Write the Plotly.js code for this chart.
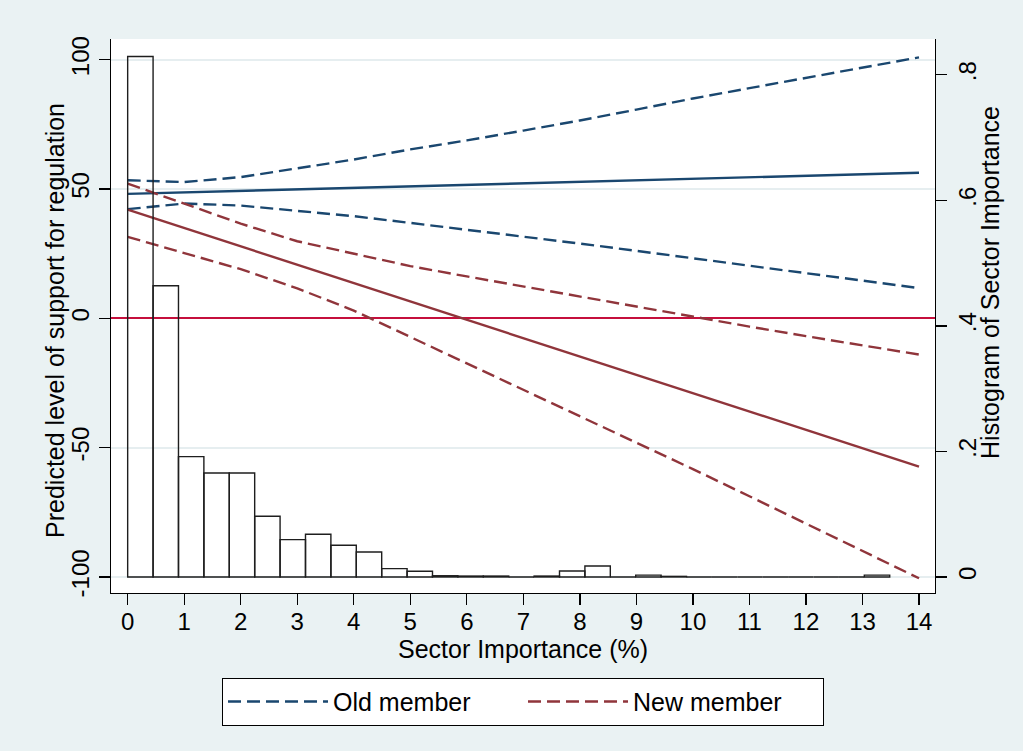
<!DOCTYPE html>
<html>
<head>
<meta charset="utf-8">
<script src="https://cdn.plot.ly/plotly-3.0.1.min.js"></script>
<style>html,body{margin:0;padding:0;background:#eaf2f3;}#chart{width:1023px;height:751px;}</style>
</head>
<body>
<div id="chart"></div>
<script>
// ---- data ----
const sectorX = [0,1,2,3,4,5,6,7,8,9,10,11,12,13,14];

const oldEstimate = [48.1,48.7,49.3,49.9,50.5,51.1,51.6,52.2,52.8,53.4,54.0,54.6,55.2,55.8,56.3];
const oldUpper    = [53.4,52.7,54.6,58.0,61.4,65.3,68.8,72.6,76.5,80.7,85.0,89.0,93.0,97.0,100.9];
const oldLower    = [42.2,44.4,43.6,41.6,39.5,36.9,34.3,31.5,28.9,26.1,23.2,20.3,17.4,14.6,11.7];

const newEstimate = [42.0,34.9,27.8,20.7,13.6,6.5,-0.6,-7.6,-14.7,-21.8,-28.9,-36.0,-43.1,-50.2,-57.3];
const newUpper    = [52.1,44.5,36.6,29.8,25.0,20.2,16.2,12.3,8.4,4.5,0.5,-3.2,-6.9,-10.5,-14.0];
const newLower    = [31.5,25.3,19.0,11.6,3.0,-7.2,-17.4,-27.5,-37.8,-48.1,-58.3,-68.8,-79.3,-89.9,-100.5];

// histogram of sector importance: 30 bins starting at 0
const histBinWidth = 0.4494;
const histDensity = [0.829,0.464,0.1917,0.1657,0.1657,0.0967,0.0595,0.068,0.0505,0.0398,
                     0.0133,0.0091,0.002,0.0015,0.0015,0,0.0015,0.0096,0.0175,0,
                     0.003,0.001,0,0,0,0,0,0,0,0.003];

const leftTickVals = [-100,-50,0,50,100];
const leftTickText = ['-100','-50','0','50','100'];
const rightTickVals = [0,0.2,0.4,0.6,0.8];
const rightTickText = ['0','.2','.4','.6','.8'];
const xTickVals = [0,1,2,3,4,5,6,7,8,9,10,11,12,13,14];

const seriesNames = ['Old member','New member'];
const leftTitle = 'Predicted level of support for regulation';
const rightTitle = 'Histogram of Sector Importance';
const xTitle = 'Sector Importance (%)';
// ---------------------------------------

const NAVY = '#1a476f', MAROON = '#90353b';
const FONT = 'Liberation Sans, Arial, Helvetica, sans-serif';
const DASH = '13px,6px';
const LW = 2.4;

const binLeft = histDensity.map((_, i) => i * histBinWidth);

const traces = [
  {
    type: 'bar', x: binLeft, y: histDensity, width: histBinWidth, offset: 0,
    yaxis: 'y2', xaxis: 'x',
    marker: {color: 'rgba(255,255,255,0)', line: {color: '#1e1e1e', width: 1.4}},
    showlegend: false, hoverinfo: 'skip'
  },
  {x: sectorX, y: oldUpper, mode: 'lines', name: seriesNames[0], legendgroup: 'old',
   line: {color: NAVY, width: LW, dash: DASH}, showlegend: true},
  {x: sectorX, y: oldLower, mode: 'lines', name: seriesNames[0], legendgroup: 'old',
   line: {color: NAVY, width: LW, dash: DASH}, showlegend: false},
  {x: sectorX, y: oldEstimate, mode: 'lines', name: seriesNames[0], legendgroup: 'old',
   line: {color: NAVY, width: LW}, showlegend: false},
  {x: sectorX, y: newUpper, mode: 'lines', name: seriesNames[1], legendgroup: 'new',
   line: {color: MAROON, width: LW, dash: DASH}, showlegend: true},
  {x: sectorX, y: newLower, mode: 'lines', name: seriesNames[1], legendgroup: 'new',
   line: {color: MAROON, width: LW, dash: DASH}, showlegend: false},
  {x: sectorX, y: newEstimate, mode: 'lines', name: seriesNames[1], legendgroup: 'new',
   line: {color: MAROON, width: LW}, showlegend: false}
];

const layout = {
  width: 1023, height: 751,
  paper_bgcolor: '#eaf2f3', plot_bgcolor: '#ffffff',
  margin: {l: 111, r: 88, t: 39, b: 158},
  font: {family: FONT, size: 24, color: '#000'},
  showlegend: true,
  xaxis: {
    range: [-0.295, 14.283], tickvals: xTickVals, ticktext: xTickVals.map(String),
    showgrid: false, zeroline: false, showline: true, linecolor: '#000', linewidth: 1.3,
    ticks: 'outside', ticklen: 11, tickwidth: 1.3, tickcolor: '#000',
    tickfont: {size: 24}, ticklabelstandoff: -4,
    title: {text: xTitle, font: {size: 25}, standoff: 0}
  },
  yaxis: {
    range: [-106.2, 108.0], tickvals: leftTickVals, ticktext: leftTickText, tickangle: -90,
    showgrid: true, gridcolor: '#e6eef0', gridwidth: 2,
    zeroline: true, zerolinecolor: '#c50f3c', zerolinewidth: 2.2,
    showline: true, linecolor: '#000', linewidth: 1.3,
    ticks: 'outside', ticklen: 11, tickwidth: 1.3, tickcolor: '#000',
    tickfont: {size: 24}
  },
  yaxis2: {
    overlaying: 'y', side: 'right',
    range: [-0.0255, 0.8569], tickvals: rightTickVals, ticktext: rightTickText, tickangle: -90,
    showgrid: false, zeroline: false, showline: true, linecolor: '#000', linewidth: 1.3,
    ticks: 'outside', ticklen: 11, tickwidth: 1.3, tickcolor: '#000',
    tickfont: {size: 24}
  },
  annotations: [
    {text: leftTitle, xref: 'paper', yref: 'paper',
     x: -0.0680, y: 0.4928, xanchor: 'center', yanchor: 'middle', textangle: -90,
     showarrow: false, font: {size: 25, family: FONT, color: '#000'}},
    {text: rightTitle, xref: 'paper', yref: 'paper',
     x: 1.0667, y: 0.5614, xanchor: 'center', yanchor: 'middle', textangle: -90,
     showarrow: false, font: {size: 25, family: FONT, color: '#000'}}
  ],
  legend: {
    orientation: 'h', x: 0.5, xanchor: 'center', y: -0.153, yanchor: 'top',
    bgcolor: '#ffffff', bordercolor: '#000', borderwidth: 1,
    font: {size: 25}, itemwidth: 100, entrywidth: 185, entrywidthmode: 'pixels',
    traceorder: 'normal'
  }
};

Plotly.newPlot('chart', traces, layout, {displayModeBar: false, staticPlot: true});
</script>
</body>
</html>
